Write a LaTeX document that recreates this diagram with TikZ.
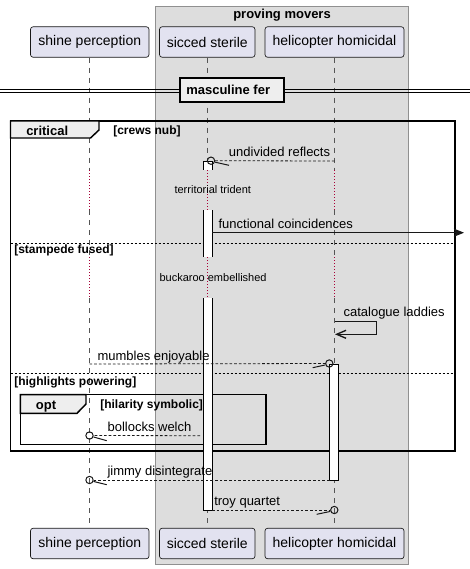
\documentclass[tikz,border=0pt]{standalone}
\usepackage{fontspec}
\setmainfont{Liberation Sans}
\usetikzlibrary{arrows.meta,calc}
\definecolor{partfill}{HTML}{E2E2F0}
\definecolor{partdraw}{HTML}{181818}
\definecolor{boxfill}{HTML}{DDDDDD}
\definecolor{boxdraw}{HTML}{909090}
\definecolor{delayc}{HTML}{A80036}
\definecolor{tabfill}{HTML}{EEEEEE}
\definecolor{lifec}{HTML}{555555}
\tikzset{
  part/.style={draw=partdraw, fill=partfill, rounded corners=2pt, line width=0.5pt,
    minimum height=22.9pt, inner sep=0pt, font=\fontsize{10.5}{12}\selectfont},
  life/.style={draw=lifec, line width=0.6pt, dash pattern=on 3.75pt off 3.75pt},
  delayline/.style={draw=delayc, line width=0.75pt, dash pattern=on 0.75pt off 1.5pt},
  frameline/.style={draw=black, line width=1.1pt},
  tabshape/.style={draw=black, fill=tabfill, line width=1.1pt},
  sepline/.style={draw=black, line width=0.6pt, dash pattern=on 1.5pt off 1.5pt},
  actbox/.style={draw=black, fill=white, line width=0.75pt, inner sep=0pt, minimum width=6.75pt},
  msgd/.style={draw=partdraw, line width=0.6pt, dash pattern=on 2pt off 1.5pt},
  msgs/.style={draw=partdraw, line width=0.75pt},
  barb/.style={draw=partdraw, line width=0.75pt},
  endcirc/.style={circle, draw=partdraw, line width=0.75pt, inner sep=0pt, minimum size=5.5pt},
  lbl/.style={anchor=base west, inner sep=0pt, font=\fontsize{9.75}{11}\selectfont},
  dlbl/.style={anchor=base west, inner sep=0pt, font=\fontsize{8.25}{10}\selectfont},
  glbl/.style={anchor=base west, inner sep=0pt, font=\bfseries\fontsize{9}{11}\selectfont},
  flbl/.style={anchor=base west, inner sep=0pt, font=\bfseries\fontsize{9.75}{11}\selectfont},
}
\begin{document}
\begin{tikzpicture}[x=0.75pt,y=-0.75pt]
\useasboundingbox (0,0) rectangle (470,569);

% group box
\draw[fill=boxfill, draw=boxdraw, line width=0.75pt] (155,6) rectangle (408,564);
\node[flbl] (grptitle) at (233,18.3) {proving movers};

% participants
\node[part, minimum width=88.9pt] (sT) at (89.75,42) {shine perception};
\node[part, minimum width=71.6pt] (cT) at (207.25,42) {sicced sterile};
\node[part, minimum width=104.25pt] (hT) at (334.5,42) {helicopter homicidal};
\node[part, minimum width=88.9pt] (sB) at (89.75,543.5) {shine perception};
\node[part, minimum width=71.6pt] (cB) at (207.25,543.5) {sicced sterile};
\node[part, minimum width=104.25pt] (hB) at (334.5,543.5) {helicopter homicidal};

% lifelines
\foreach \t/\b in {sT/sB,cT/cB,hT/hB}{
  \draw[life] (\t.south) -- (\t.south |- 0,170);
  \draw[delayline] (\t.south |- 0,170) -- (\t.south |- 0,210);
  \draw[life] (\t.south |- 0,210) -- (\t.south |- 0,257);
  \draw[delayline] (\t.south |- 0,257) -- (\t.south |- 0,298);
  \draw[life] (\t.south |- 0,298) -- (\b.north);
}

% divider
\draw[line width=0.75pt] (0,89.3) -- (470,89.3);
\draw[line width=0.75pt] (0,92.3) -- (470,92.3);
\node[draw=black, fill=tabfill, line width=1.5pt, minimum width=78pt, minimum height=18pt, inner sep=0pt] (divbox) at (232,90) {};
\node[flbl] (divtext) at (186,94.5) {masculine fer};

% critical frame
\draw[frameline] (10.5,121) rectangle (455,451);
\draw[tabshape] (10.5,121) -- (99,121) -- (99,130) -- (90.5,138) -- (10.5,138) -- cycle;
\node[flbl] (crit) at (26,135) {critical};
\node[glbl] (g1) at (113,134) {[crews nub]};
\draw[sepline] (10.5,243) -- (455,243);
\node[glbl] (g2) at (14,253) {[stampede fused]};
\draw[sepline] (10.5,373.3) -- (455,373.3);
\node[glbl] (g3) at (14,385) {[highlights powering]};

% opt frame
\draw[frameline] (20.3,394.7) rectangle (266,444.3);
\draw[tabshape] (20.3,394.7) -- (86,394.7) -- (86,404) -- (77,413.3) -- (20.3,413.3) -- cycle;
\node[flbl] (optl) at (35.7,409) {opt};
\node[glbl] (g4) at (100,408) {[hilarity symbolic]};

% activations
\node[actbox, minimum height=261.75pt] (actS) at (207.5,335.5) {};
\fill[boxfill] (202,170) rectangle (213,210);
\fill[boxfill] (202,257) rectangle (213,298);
\draw[delayline] (cT.south |- 0,170) -- (cT.south |- 0,210);
\draw[delayline] (cT.south |- 0,257) -- (cT.south |- 0,298);
\node[actbox, minimum width=7.1pt, minimum height=87pt] (actH) at (334.25,422) {};

% delay texts
\node[dlbl] (d1) at (174.3,193.3) {territorial trident};
\node[dlbl] (d2) at (159.3,281) {buckaroo embellished};

% message 1: undivided reflects
\coordinate (m1s) at (334.5,161);
\node[endcirc] (c1) at (211,160.7) {};
\draw[msgd] (m1s) -- (c1);
\draw[barb] (c1.-20) -- (229,165.3);
\node[lbl] (t1) at (228.7,156) {undivided reflects};

% message 2: functional coincidences
\coordinate (m2s) at (212,232.7);
\coordinate (m2e) at (464,232.7);
\draw[msgs, -{Stealth[length=7.5pt,width=6pt,inset=1.5pt]}] (m2s) -- (m2e);
\node[lbl] (t2) at (218.3,228.3) {functional coincidences};

% self message: catalogue laddies
\coordinate (m3s) at (334.5,321);
\coordinate (m3e) at (335,334.3);
\draw[msgs, -{Straight Barb[length=7pt,width=6pt,line width=1pt]}] (m3s) -- (376.7,321) -- (376.7,334.3) -- (m3e);
\node[lbl] (t3) at (343.3,316) {catalogue laddies};

% message 4: mumbles enjoyable
\coordinate (m4s) at (89.5,364);
\node[endcirc] (c4) at (329.3,363.5) {};
\draw[msgd] (m4s) -- (c4);
\draw[barb] (c4.200) -- (312.7,367.7);
\node[lbl] (t4) at (97.3,360) {mumbles enjoyable};

% message 5: bollocks welch
\coordinate (m5s) at (200,435.7);
\node[endcirc] (c5) at (89.5,435.5) {};
\draw[msgd] (m5s) -- (c5);
\draw[barb] (c5.-20) -- (106.7,440.7);
\node[lbl] (t5) at (107.3,431) {bollocks welch};

% message 6: jimmy disintegrate
\coordinate (m6s) at (329.5,480);
\node[endcirc] (c6) at (89.5,480) {};
\draw[msgd] (m6s) -- (c6);
\draw[barb] (c6.-20) -- (106.7,484.7);
\node[lbl] (t6) at (107.3,475.5) {jimmy disintegrate};

% message 7: troy quartet
\coordinate (m7s) at (212,510);
\node[endcirc] (c7) at (334.3,510) {};
\draw[msgd] (m7s) -- (c7);
\draw[barb] (c7.200) -- (316.7,514.3);
\node[lbl] (t7) at (214,505.7) {troy quartet};
\end{tikzpicture}
\end{document}
